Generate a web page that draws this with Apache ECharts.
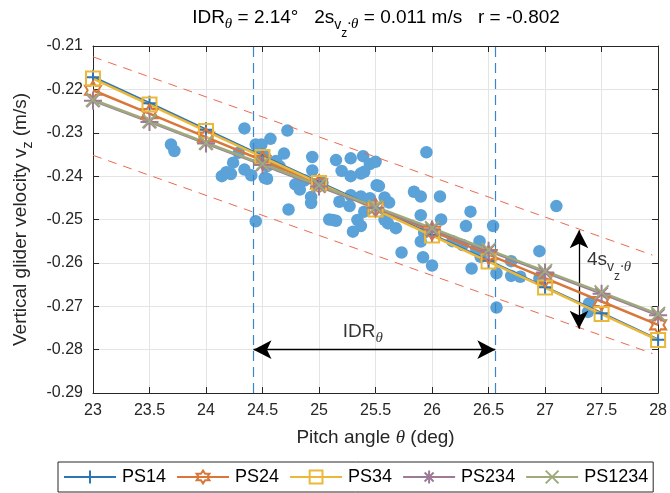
<!DOCTYPE html>
<html>
<head>
<meta charset="utf-8">
<script src="https://cdn.jsdelivr.net/npm/echarts@6/dist/echarts.min.js"></script>
<style>
  html, body { margin: 0; padding: 0; background: #fff; }
  #chart { width: 670px; height: 493px; }
</style>
</head>
<body>
<div id="chart"></div>
<script>
// pitch angle grid used by the model curves
const pitch = [23, 23.5, 24, 24.5, 25, 25.5, 26, 26.5, 27, 27.5, 28];

// model predictions of v_z (m/s) at each pitch angle
const ps14 = [-0.2172, -0.2232, -0.2293, -0.2354, -0.2414, -0.2474, -0.2535, -0.2595, -0.2656, -0.2716, -0.2777];
const ps24 = [-0.2202, -0.2256, -0.2310, -0.2364, -0.2418, -0.2473, -0.2527, -0.2581, -0.2635, -0.2689, -0.2743];
const ps34 = [-0.2175, -0.2235, -0.2296, -0.2356, -0.2416, -0.2477, -0.2537, -0.2597, -0.2657, -0.2718, -0.2778];
const ps234 = [-0.2226, -0.2275, -0.2325, -0.2374, -0.2424, -0.2473, -0.2523, -0.2572, -0.2622, -0.2671, -0.2721];
const ps1234 = [-0.2224, -0.2273, -0.2323, -0.2372, -0.2421, -0.2471, -0.2520, -0.2570, -0.2619, -0.2668, -0.2718];

// measured glider samples [pitch, v_z]
const samples = [
  [23.69, -0.2327], [23.72, -0.2342], [24.14, -0.2400], [24.18, -0.2391], [24.22, -0.2395],
  [24.24, -0.2369], [24.29, -0.2346], [24.34, -0.2290], [24.34, -0.2385], [24.40, -0.2398],
  [24.44, -0.2327], [24.44, -0.2504], [24.47, -0.2342], [24.49, -0.2327], [24.52, -0.2354],
  [24.52, -0.2404], [24.53, -0.2362], [24.54, -0.2377], [24.54, -0.2406], [24.57, -0.2314],
  [24.62, -0.2365], [24.65, -0.2377], [24.69, -0.2348], [24.72, -0.2295], [24.73, -0.2477],
  [24.79, -0.2419], [24.83, -0.2431], [24.87, -0.2410], [24.93, -0.2448], [24.93, -0.2462],
  [24.94, -0.2356], [24.94, -0.2387], [25.00, -0.2423], [25.03, -0.2415], [25.09, -0.2500],
  [25.15, -0.2363], [25.28, -0.2359], [25.39, -0.2354], [25.45, -0.2372], [25.50, -0.2367],
  [25.20, -0.2388], [25.28, -0.2400], [25.37, -0.2394], [25.40, -0.2390], [25.51, -0.2421],
  [25.53, -0.2423], [25.28, -0.2444], [25.18, -0.2459], [25.27, -0.2469], [25.37, -0.2447],
  [25.45, -0.2451], [25.58, -0.2449], [25.62, -0.2461], [25.40, -0.2482], [25.34, -0.2501],
  [25.37, -0.2515], [25.30, -0.2528], [25.12, -0.2501], [25.15, -0.2503], [25.58, -0.2501],
  [25.61, -0.2509], [25.68, -0.2520], [25.84, -0.2436], [25.90, -0.2447], [26.07, -0.2447],
  [25.95, -0.2345], [25.90, -0.2490], [26.08, -0.2500], [25.93, -0.2530], [25.90, -0.2551],
  [25.73, -0.2576], [25.92, -0.2587], [26.00, -0.2606], [26.18, -0.2550], [26.27, -0.2559],
  [26.34, -0.2482], [26.30, -0.2515], [26.42, -0.2550], [26.39, -0.2567], [26.43, -0.2586],
  [26.35, -0.2613], [26.54, -0.2515], [26.57, -0.2624], [26.57, -0.2703], [26.70, -0.2596],
  [26.70, -0.2630], [26.78, -0.2632], [26.95, -0.2573], [26.95, -0.2636], [27.10, -0.2469],
  [27.39, -0.2693], [27.38, -0.2713]
];

// +/- 2s band around the fit
const bandUpper = [[23, -0.2125], [27.95, -0.2582]];
const bandLower = [[23, -0.2352], [27.95, -0.2809]];

// interdecile range of pitch
const idr = [24.42, 26.56];
const spreadArrowX = 27.3;
const spreadArrowY = [-0.2525, -0.2752];
const idrArrowY = -0.28;

const xTicks = { min: 23, max: 28, step: 0.5 };
const yTicks = { min: -0.29, max: -0.21, step: 0.01 };

const FONT = 'Liberation Sans';
const INK = '#262626';

const subRich = {
  m: { fontSize: 19, fontFamily: FONT, color: '#000', verticalAlign: 'top' },
  s: { fontSize: 14, fontFamily: FONT, color: '#000', verticalAlign: 'top', padding: [10, 0, 0, 0] },
  st: { fontSize: 15, fontFamily: 'Liberation Serif', fontStyle: 'italic', color: '#000', verticalAlign: 'top', padding: [9, 0, 0, 0] },
  ss: { fontSize: 12, fontFamily: FONT, color: '#000', verticalAlign: 'top', padding: [20, 0, 0, 0] },
};

const modelSeries = (name, values, color, symbol, size) => ({
  name,
  type: 'line',
  data: pitch.map((p, i) => [p, values[i]]),
  color,
  symbol,
  symbolSize: size,
  showAllSymbol: true,
  lineStyle: { color, width: 2.5 },
  itemStyle: { color: 'rgba(255,255,255,0)', borderColor: color, borderWidth: 2 },
  emphasis: { disabled: true },
  z: 5,
});

const plusPath = 'path://M0,5L10,5M5,0L5,10';
const hexPath = 'path://M10,0L12.89,5L18.66,5L15.77,10L18.66,15L12.89,15L10,20L7.11,15L1.34,15L4.23,10L1.34,5L7.11,5Z';
const starPath = 'path://M0,5L10,5M5,0L5,10M1.5,1.5L8.5,8.5M1.5,8.5L8.5,1.5';
const crossPath = 'path://M0,0L10,10M0,10L10,0';

const chart = echarts.init(document.getElementById('chart'));

const gridBox = { left: 93, right: 11, top: 46, bottom: 100 };
const plotCenterX = gridBox.left + (670 - gridBox.left - gridBox.right) / 2;

const hiddenAxis = {
  axisLine: { show: true, lineStyle: { color: INK, width: 1 } },
  axisTick: { show: true, inside: true, length: 6, lineStyle: { color: INK } },
  axisLabel: { show: false },
  splitLine: { show: false },
};

const option = {
  animation: false,
  backgroundColor: '#fff',
  grid: gridBox,
  graphic: [
    {
      type: 'text',
      x: plotCenterX,
      y: 8,
      style: {
        text: '{m|IDR}{st|θ}{m| = 2.14°   2s}{s|v}{ss|z}{st|·θ}{m| = 0.011 m/s   r = -0.802}',
        align: 'center',
        verticalAlign: 'top',
        rich: subRich,
      },
    },
  ],
  xAxis: [
    {
      type: 'value',
      min: xTicks.min,
      max: xTicks.max,
      interval: xTicks.step,
      name: 'Pitch angle {it|θ} (deg)',
      nameLocation: 'middle',
      nameGap: 35,
      nameTextStyle: {
        fontSize: 19,
        fontFamily: FONT,
        color: INK,
        rich: { it: { fontSize: 19, fontFamily: 'Liberation Serif', fontStyle: 'italic', color: INK } },
      },
      axisLine: { onZero: false, lineStyle: { color: INK, width: 1 } },
      axisTick: { inside: true, length: 6, lineStyle: { color: INK } },
      axisLabel: { fontSize: 16, fontFamily: FONT, color: INK, margin: 10 },
      splitLine: { show: true, lineStyle: { color: '#e4e4e4', width: 1 } },
    },
    Object.assign({ type: 'value', position: 'top', min: xTicks.min, max: xTicks.max, interval: xTicks.step }, hiddenAxis),
  ],
  yAxis: [
    {
      type: 'value',
      min: yTicks.min,
      max: yTicks.max,
      interval: yTicks.step,
      name: '{m|Vertical glider velocity v}{s|z}{m| (m/s)}',
      nameLocation: 'middle',
      nameGap: 56,
      nameTextStyle: {
        rich: {
          m: { fontSize: 19, fontFamily: FONT, color: INK, verticalAlign: 'top' },
          s: { fontSize: 14, fontFamily: FONT, color: INK, verticalAlign: 'top', padding: [10, 0, 0, 0] },
        },
      },
      axisLine: { onZero: false, lineStyle: { color: INK, width: 1 } },
      axisTick: { inside: true, length: 6, lineStyle: { color: INK } },
      axisLabel: { fontSize: 16, fontFamily: FONT, color: INK, margin: 10, formatter: v => v.toFixed(2) },
      splitLine: { show: true, lineStyle: { color: '#e4e4e4', width: 1 } },
    },
    Object.assign({ type: 'value', position: 'right', min: yTicks.min, max: yTicks.max, interval: yTicks.step }, hiddenAxis),
  ],
  legend: {
    data: ['PS14', 'PS24', 'PS34', 'PS234', 'PS1234'],
    left: 58,
    top: 462,
    orient: 'horizontal',
    itemWidth: 52,
    itemHeight: 16,
    itemGap: 10,
    padding: [6, 5],
    borderColor: INK,
    borderWidth: 1,
    borderRadius: 0,
    textStyle: { fontSize: 18, fontFamily: FONT, color: '#000', padding: [0, 0, 0, 1] },
  },
  series: [
    {
      name: 'samples',
      type: 'scatter',
      data: samples,
      symbolSize: 12.5,
      itemStyle: { color: '#5aa2d8', opacity: 1 },
      emphasis: { disabled: true },
      z: 2,
      markLine: {
        silent: true,
        symbol: 'none',
        label: { show: false },
        lineStyle: { color: '#3a86c8', width: 1.2, type: [10, 6] },
        data: idr.map(v => ({ xAxis: v })),
      },
    },
    {
      name: 'upper',
      type: 'line',
      data: bandUpper,
      symbol: 'none',
      lineStyle: { color: '#ea6a50', width: 1, type: [9, 7] },
      z: 3,
    },
    {
      name: 'lower',
      type: 'line',
      data: bandLower,
      symbol: 'none',
      lineStyle: { color: '#ea6a50', width: 1, type: [9, 7] },
      z: 3,
    },
    modelSeries('PS14', ps14, '#2e76b3', plusPath, 15),
    modelSeries('PS24', ps24, '#d9773a', hexPath, [16, 18]),
    modelSeries('PS34', ps34, '#ecb83a', 'rect', 14),
    modelSeries('PS234', ps234, '#9d7b98', starPath, 18),
    modelSeries('PS1234', ps1234, '#9faa7c', crossPath, 14),
    {
      name: 'arrows',
      type: 'line',
      data: [],
      z: 6,
      markLine: {
        silent: true,
        symbol: ['arrow', 'arrow'],
        symbolSize: [14, 18],
        label: { show: false },
        lineStyle: { color: '#000', width: 1.3, type: 'solid' },
        data: [
          [{ coord: [idr[0], idrArrowY] }, { coord: [idr[1], idrArrowY] }],
          [{ coord: [spreadArrowX, spreadArrowY[0]] }, { coord: [spreadArrowX, spreadArrowY[1]] }],
        ],
      },
    },
    {
      name: 'notes',
      type: 'scatter',
      symbolSize: 0,
      silent: true,
      z: 7,
      label: {
        show: true,
        position: 'inside',
        align: 'left',
        verticalAlign: 'top',
        rich: subRich,
      },
      data: [
        { value: [25.21, -0.2736], label: { formatter: '{m|IDR}{st|θ}' } },
        { value: [27.37, -0.2571], label: { formatter: '{m|4s}{s|v}{ss|z}{st|·θ}' } },
      ],
    },
  ],
};

chart.setOption(option);
</script>
</body>
</html>
